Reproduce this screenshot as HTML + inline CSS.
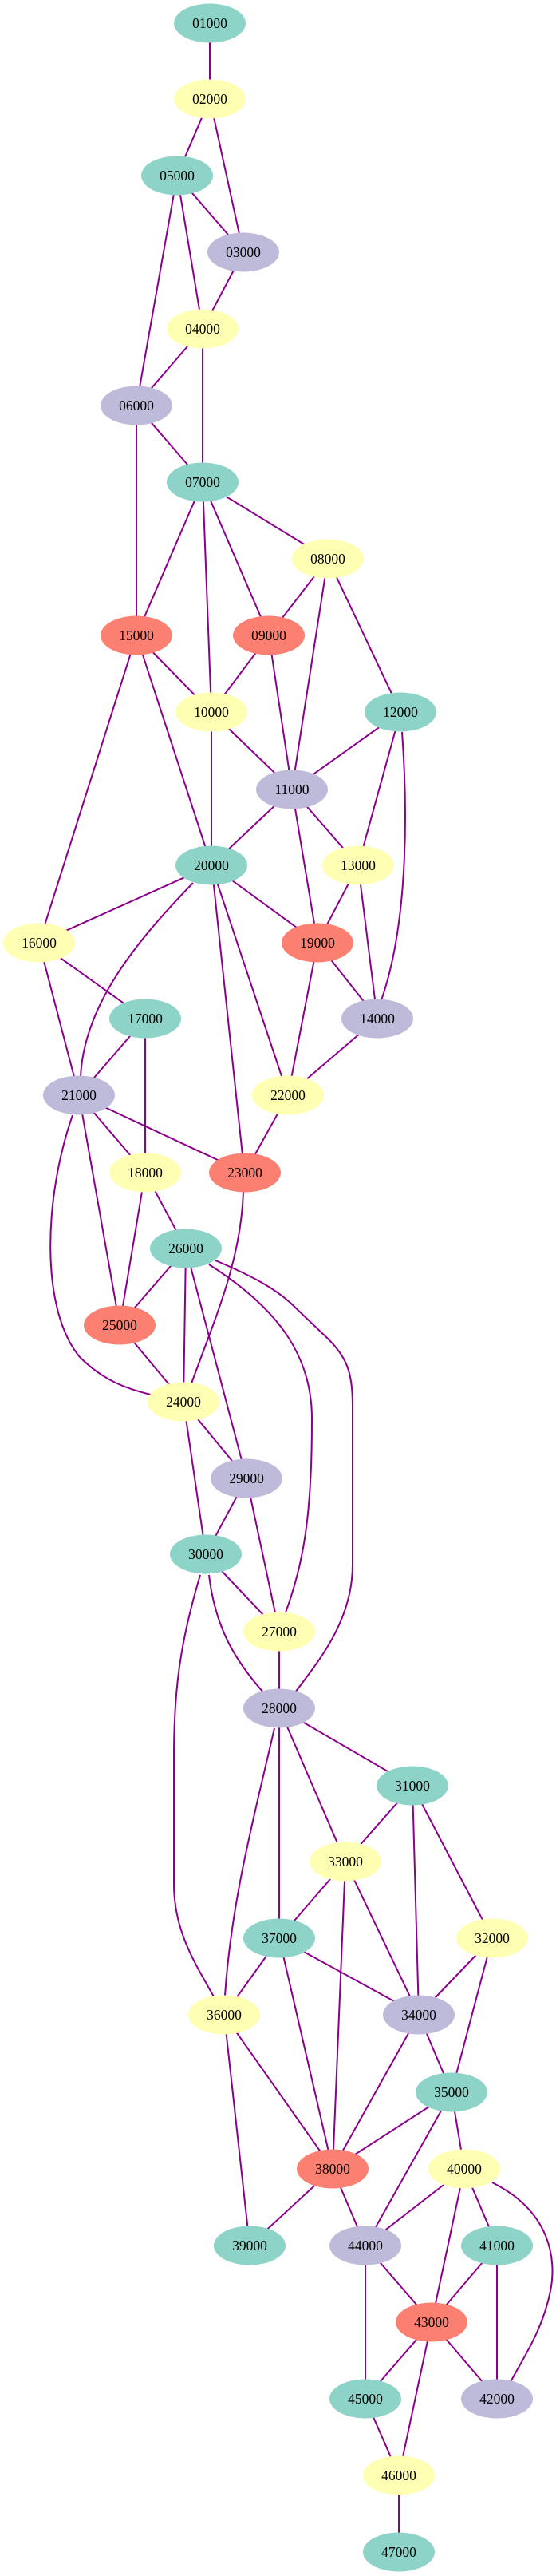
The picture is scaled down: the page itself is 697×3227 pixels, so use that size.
<!DOCTYPE html>
<html><head><meta charset="utf-8"><style>
html,body{margin:0;padding:0;background:#fff;}
svg{display:block;}
text{font-family:"Liberation Serif",serif;font-size:17.5px;text-anchor:middle;dominant-baseline:central;fill:#000;}
.e line,.e path{stroke:#8b008b;stroke-width:2;fill:none;}
.t{fill:#8dd3c7}.y{fill:#ffffb3}.l{fill:#bebada}.s{fill:#fb8072}
</style></head><body>
<svg width="697" height="3227" viewBox="0 0 697 3227" xmlns="http://www.w3.org/2000/svg">
<g class="e">
<line x1="263" y1="29" x2="263" y2="124"/>
<line x1="263" y1="124" x2="222" y2="220"/>
<line x1="263" y1="124" x2="305" y2="316"/>
<line x1="222" y1="220" x2="305" y2="316"/>
<line x1="222" y1="220" x2="254" y2="412"/>
<line x1="222" y1="220" x2="171" y2="508"/>
<line x1="305" y1="316" x2="254" y2="412"/>
<line x1="254" y1="412" x2="171" y2="508"/>
<line x1="254" y1="412" x2="254" y2="604"/>
<line x1="171" y1="508" x2="254" y2="604"/>
<line x1="171" y1="508" x2="171" y2="796"/>
<line x1="254" y1="604" x2="171" y2="796"/>
<line x1="254" y1="604" x2="265" y2="892"/>
<line x1="254" y1="604" x2="337" y2="796"/>
<line x1="254" y1="604" x2="411" y2="700"/>
<line x1="411" y1="700" x2="337" y2="796"/>
<line x1="411" y1="700" x2="366" y2="989"/>
<line x1="411" y1="700" x2="502" y2="892"/>
<line x1="171" y1="796" x2="265" y2="892"/>
<line x1="171" y1="796" x2="265" y2="1084"/>
<line x1="171" y1="796" x2="49" y2="1181"/>
<line x1="337" y1="796" x2="265" y2="892"/>
<line x1="337" y1="796" x2="366" y2="989"/>
<line x1="265" y1="892" x2="366" y2="989"/>
<line x1="265" y1="892" x2="265" y2="1084"/>
<line x1="502" y1="892" x2="366" y2="989"/>
<line x1="502" y1="892" x2="449" y2="1084"/>
<path d="M504,917 C510,1000 514,1150 478,1253"/>
<line x1="366" y1="989" x2="265" y2="1084"/>
<line x1="366" y1="989" x2="449" y2="1084"/>
<line x1="366" y1="989" x2="398" y2="1181"/>
<line x1="265" y1="1084" x2="49" y2="1181"/>
<path d="M242,1106 C170,1180 105,1260 101,1349"/>
<line x1="265" y1="1084" x2="398" y2="1181"/>
<path d="M267,1100 L304,1447"/>
<line x1="265" y1="1084" x2="361" y2="1372"/>
<line x1="449" y1="1084" x2="398" y2="1181"/>
<line x1="449" y1="1084" x2="473" y2="1276"/>
<line x1="49" y1="1181" x2="182" y2="1276"/>
<line x1="49" y1="1181" x2="99" y2="1372"/>
<line x1="398" y1="1181" x2="473" y2="1276"/>
<line x1="398" y1="1181" x2="361" y2="1372"/>
<line x1="182" y1="1276" x2="99" y2="1372"/>
<line x1="182" y1="1276" x2="182" y2="1469"/>
<line x1="473" y1="1276" x2="361" y2="1372"/>
<line x1="99" y1="1372" x2="182" y2="1469"/>
<line x1="99" y1="1372" x2="307" y2="1469"/>
<line x1="99" y1="1372" x2="150" y2="1660"/>
<path d="M91,1397 C55,1500 50,1640 100,1700 C130,1730 160,1740 189,1747"/>
<line x1="361" y1="1372" x2="307" y2="1469"/>
<line x1="182" y1="1469" x2="233" y2="1564"/>
<line x1="182" y1="1469" x2="150" y2="1660"/>
<path d="M305,1493 C302,1580 270,1650 240,1733"/>
<line x1="233" y1="1564" x2="150" y2="1660"/>
<line x1="233" y1="1564" x2="230" y2="1756"/>
<line x1="233" y1="1564" x2="309" y2="1852"/>
<path d="M262,1584 C350,1640 392,1700 391,1780 C391,1900 380,1960 358,2020"/>
<path d="M270,1579 C320,1600 345,1615 364,1632 L410,1676 C435,1700 442,1720 442,1760 L442,1960 C442,2030 400,2080 370,2120"/>
<line x1="150" y1="1660" x2="230" y2="1756"/>
<line x1="230" y1="1756" x2="309" y2="1852"/>
<line x1="230" y1="1756" x2="258" y2="1947"/>
<line x1="309" y1="1852" x2="258" y2="1947"/>
<line x1="309" y1="1852" x2="350" y2="2044"/>
<line x1="258" y1="1947" x2="350" y2="2044"/>
<path d="M262,1973 C270,2040 295,2080 330,2120"/>
<path d="M251,1973 C225,2060 218,2120 218,2200 L218,2360 C218,2420 245,2460 269,2503"/>
<line x1="350" y1="2044" x2="350" y2="2140"/>
<line x1="350" y1="2140" x2="517" y2="2237"/>
<line x1="350" y1="2140" x2="433" y2="2332"/>
<line x1="350" y1="2140" x2="350" y2="2428"/>
<path d="M344,2165 C320,2270 290,2380 282,2500"/>
<line x1="517" y1="2237" x2="433" y2="2332"/>
<line x1="517" y1="2237" x2="525" y2="2524"/>
<line x1="517" y1="2237" x2="617" y2="2428"/>
<line x1="433" y1="2332" x2="350" y2="2428"/>
<line x1="433" y1="2332" x2="417" y2="2717"/>
<line x1="433" y1="2332" x2="525" y2="2524"/>
<line x1="350" y1="2428" x2="281" y2="2524"/>
<line x1="350" y1="2428" x2="525" y2="2524"/>
<line x1="350" y1="2428" x2="417" y2="2717"/>
<line x1="617" y1="2428" x2="525" y2="2524"/>
<line x1="617" y1="2428" x2="566" y2="2621"/>
<line x1="281" y1="2524" x2="417" y2="2717"/>
<line x1="281" y1="2524" x2="313" y2="2813"/>
<line x1="525" y1="2524" x2="417" y2="2717"/>
<line x1="525" y1="2524" x2="566" y2="2621"/>
<line x1="566" y1="2621" x2="417" y2="2717"/>
<line x1="566" y1="2621" x2="458" y2="2813"/>
<line x1="566" y1="2621" x2="582" y2="2717"/>
<line x1="417" y1="2717" x2="458" y2="2813"/>
<line x1="417" y1="2717" x2="313" y2="2813"/>
<line x1="582" y1="2717" x2="458" y2="2813"/>
<line x1="582" y1="2717" x2="541" y2="2909"/>
<line x1="582" y1="2717" x2="623" y2="2813"/>
<path d="M617,2734 C690,2770 698,2830 690,2870 C680,2920 655,2955 640,2984"/>
<line x1="623" y1="2813" x2="541" y2="2909"/>
<line x1="623" y1="2813" x2="623" y2="3005"/>
<line x1="458" y1="2813" x2="541" y2="2909"/>
<line x1="458" y1="2813" x2="458" y2="3005"/>
<line x1="541" y1="2909" x2="458" y2="3005"/>
<line x1="541" y1="2909" x2="623" y2="3005"/>
<line x1="541" y1="2909" x2="500" y2="3101"/>
<line x1="458" y1="3005" x2="500" y2="3101"/>
<line x1="500" y1="3101" x2="500" y2="3197"/>
</g>
<g>
<ellipse class="t" cx="263" cy="29" rx="45" ry="24.5"/><text x="263" y="29">01000</text>
<ellipse class="y" cx="263" cy="124" rx="45" ry="24.5"/><text x="263" y="124">02000</text>
<ellipse class="t" cx="222" cy="220" rx="45" ry="24.5"/><text x="222" y="220">05000</text>
<ellipse class="l" cx="305" cy="316" rx="45" ry="24.5"/><text x="305" y="316">03000</text>
<ellipse class="y" cx="254" cy="412" rx="45" ry="24.5"/><text x="254" y="412">04000</text>
<ellipse class="l" cx="171" cy="508" rx="45" ry="24.5"/><text x="171" y="508">06000</text>
<ellipse class="t" cx="254" cy="604" rx="45" ry="24.5"/><text x="254" y="604">07000</text>
<ellipse class="y" cx="411" cy="700" rx="45" ry="24.5"/><text x="411" y="700">08000</text>
<ellipse class="s" cx="171" cy="796" rx="45" ry="24.5"/><text x="171" y="796">15000</text>
<ellipse class="s" cx="337" cy="796" rx="45" ry="24.5"/><text x="337" y="796">09000</text>
<ellipse class="y" cx="265" cy="892" rx="45" ry="24.5"/><text x="265" y="892">10000</text>
<ellipse class="t" cx="502" cy="892" rx="45" ry="24.5"/><text x="502" y="892">12000</text>
<ellipse class="l" cx="366" cy="989" rx="45" ry="24.5"/><text x="366" y="989">11000</text>
<ellipse class="t" cx="265" cy="1084" rx="45" ry="24.5"/><text x="265" y="1084">20000</text>
<ellipse class="y" cx="449" cy="1084" rx="45" ry="24.5"/><text x="449" y="1084">13000</text>
<ellipse class="y" cx="49" cy="1181" rx="45" ry="24.5"/><text x="49" y="1181">16000</text>
<ellipse class="s" cx="398" cy="1181" rx="45" ry="24.5"/><text x="398" y="1181">19000</text>
<ellipse class="t" cx="182" cy="1276" rx="45" ry="24.5"/><text x="182" y="1276">17000</text>
<ellipse class="l" cx="473" cy="1276" rx="45" ry="24.5"/><text x="473" y="1276">14000</text>
<ellipse class="l" cx="99" cy="1372" rx="45" ry="24.5"/><text x="99" y="1372">21000</text>
<ellipse class="y" cx="361" cy="1372" rx="45" ry="24.5"/><text x="361" y="1372">22000</text>
<ellipse class="y" cx="182" cy="1469" rx="45" ry="24.5"/><text x="182" y="1469">18000</text>
<ellipse class="s" cx="307" cy="1469" rx="45" ry="24.5"/><text x="307" y="1469">23000</text>
<ellipse class="t" cx="233" cy="1564" rx="45" ry="24.5"/><text x="233" y="1564">26000</text>
<ellipse class="s" cx="150" cy="1660" rx="45" ry="24.5"/><text x="150" y="1660">25000</text>
<ellipse class="y" cx="230" cy="1756" rx="45" ry="24.5"/><text x="230" y="1756">24000</text>
<ellipse class="l" cx="309" cy="1852" rx="45" ry="24.5"/><text x="309" y="1852">29000</text>
<ellipse class="t" cx="258" cy="1947" rx="45" ry="24.5"/><text x="258" y="1947">30000</text>
<ellipse class="y" cx="350" cy="2044" rx="45" ry="24.5"/><text x="350" y="2044">27000</text>
<ellipse class="l" cx="350" cy="2140" rx="45" ry="24.5"/><text x="350" y="2140">28000</text>
<ellipse class="t" cx="517" cy="2237" rx="45" ry="24.5"/><text x="517" y="2237">31000</text>
<ellipse class="y" cx="433" cy="2332" rx="45" ry="24.5"/><text x="433" y="2332">33000</text>
<ellipse class="t" cx="350" cy="2428" rx="45" ry="24.5"/><text x="350" y="2428">37000</text>
<ellipse class="y" cx="617" cy="2428" rx="45" ry="24.5"/><text x="617" y="2428">32000</text>
<ellipse class="y" cx="281" cy="2524" rx="45" ry="24.5"/><text x="281" y="2524">36000</text>
<ellipse class="l" cx="525" cy="2524" rx="45" ry="24.5"/><text x="525" y="2524">34000</text>
<ellipse class="t" cx="566" cy="2621" rx="45" ry="24.5"/><text x="566" y="2621">35000</text>
<ellipse class="s" cx="417" cy="2717" rx="45" ry="24.5"/><text x="417" y="2717">38000</text>
<ellipse class="y" cx="582" cy="2717" rx="45" ry="24.5"/><text x="582" y="2717">40000</text>
<ellipse class="t" cx="313" cy="2813" rx="45" ry="24.5"/><text x="313" y="2813">39000</text>
<ellipse class="l" cx="458" cy="2813" rx="45" ry="24.5"/><text x="458" y="2813">44000</text>
<ellipse class="t" cx="623" cy="2813" rx="45" ry="24.5"/><text x="623" y="2813">41000</text>
<ellipse class="s" cx="541" cy="2909" rx="45" ry="24.5"/><text x="541" y="2909">43000</text>
<ellipse class="t" cx="458" cy="3005" rx="45" ry="24.5"/><text x="458" y="3005">45000</text>
<ellipse class="l" cx="623" cy="3005" rx="45" ry="24.5"/><text x="623" y="3005">42000</text>
<ellipse class="y" cx="500" cy="3101" rx="45" ry="24.5"/><text x="500" y="3101">46000</text>
<ellipse class="t" cx="500" cy="3197" rx="45" ry="24.5"/><text x="500" y="3197">47000</text>
</g>
</svg>
</body></html>
